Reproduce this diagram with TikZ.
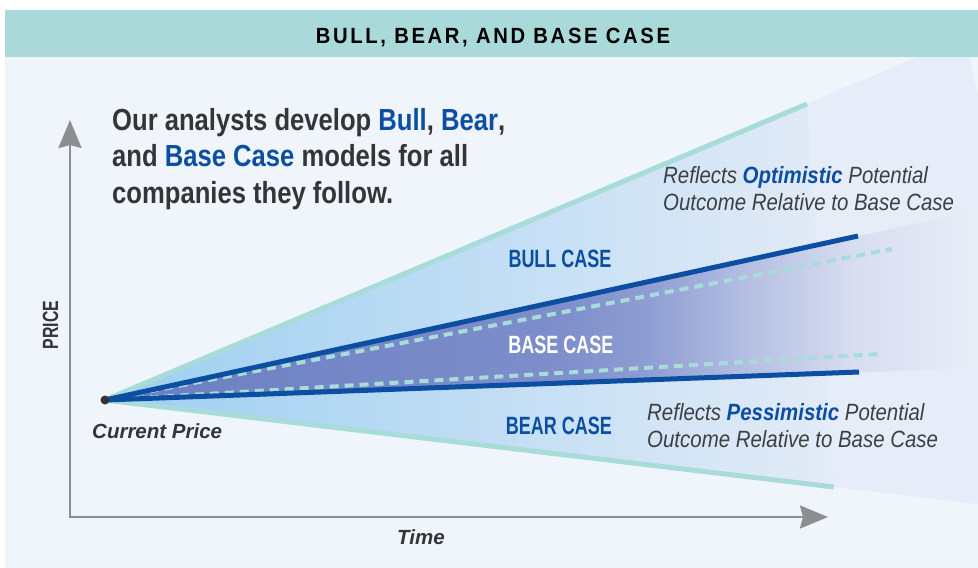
\documentclass[tikz,border=0pt]{standalone}
\usepackage{fontspec}
\setmainfont{Liberation Sans}
\newfontfamily\headfont[FakeStretch=0.92,LetterSpace=12]{Liberation Sans}
\newfontfamily\leadfont[FakeStretch=0.84]{Liberation Sans}
\newfontfamily\casefont[FakeStretch=0.72]{Liberation Sans}
\newfontfamily\notefont[FakeStretch=0.87]{Liberation Sans}
\usetikzlibrary{arrows.meta,positioning,calc}
\definecolor{bandteal}{HTML}{A9DAD9}
\definecolor{cardbg}{HTML}{F0F5FC}
\definecolor{fanfaint}{HTML}{E6EDF8}
\definecolor{textgray}{HTML}{333537}
\definecolor{notegray}{HTML}{3D3F42}
\definecolor{caseblue}{HTML}{0B4EA2}
\definecolor{edgeteal}{HTML}{A7DCD8}
\definecolor{axisgray}{HTML}{8C8F92}
\definecolor{fanblue}{HTML}{9DCFF1}
\definecolor{fanblueend}{HTML}{E3EBF7}
\definecolor{basepurple}{HTML}{6A7EC0}
\definecolor{basemid}{HTML}{7D8ECB}
\definecolor{basemidb}{HTML}{8E9DD2}
\definecolor{baselight}{HTML}{B5C0E3}
\definecolor{basepale}{HTML}{D8DEF1}
\definecolor{baseend}{HTML}{E8EDF8}
% purple band fades late, so stops are set by hand
\pgfdeclarehorizontalshading{basefade}{100bp}{color(0bp)=(basepurple); color(25bp)=(basepurple);
  color(51bp)=(basemid); color(56bp)=(basemidb); color(62bp)=(baselight);
  color(68bp)=(basepale); color(75bp)=(baseend); color(100bp)=(baseend)}

\begin{document}
\begin{tikzpicture}[x=1pt,y=-1pt,% pixel grid, y runs down
    every node/.style={inner sep=0pt},
    headtext/.style={font=\headfont\bfseries\fontsize{22}{26}\selectfont, text=black},
    leadtext/.style={anchor=north west, align=left, text=textgray,
      font=\leadfont\bfseries\fontsize{30.5}{36.5}\selectfont},
    casetext/.style={anchor=base, text=caseblue, font=\casefont\bfseries\fontsize{25}{30}\selectfont},
    notetext/.style={anchor=north west, align=left, text=notegray,
      font=\notefont\itshape\fontsize{23.5}{27}\selectfont},
    axistext/.style={text=textgray, font=\bfseries\itshape\fontsize{20.5}{24}\selectfont},
    edgeline/.style={draw=edgeteal, line width=5pt},
    caseline/.style={draw=caseblue, line width=5pt},
    basedash/.style={draw=edgeteal, line width=4pt, dash pattern=on 9pt off 6pt},
    axisline/.style={draw=axisgray, line width=2.5pt, line join=miter,
      {Stealth[length=28pt,width=23pt,inset=3pt]}-{Stealth[length=28pt,width=23pt,inset=3pt]}}
  ]
  \useasboundingbox (0,0) rectangle (978,568);
  % card and title band
  \fill[white] (0,0) rectangle (978,568);
  \fill[cardbg] (5,57) rectangle (978,568);
  \fill[bandteal] (5,10) rectangle (978,57);
  \node[headtext, anchor=base] (title) at (493,43) {BULL, BEAR, AND BASE CASE};

  % fan points
  \coordinate (cp) at (105,400);
  \coordinate (bullTop) at (807,104);
  \coordinate (bearLow) at (834,487);
  \coordinate (bullEnd) at (858,236);
  \coordinate (bearEnd) at (859,372);
  \coordinate (dashUp) at (892,249);
  \coordinate (dashLow) at (879,354);

  % faded fans
  \fill[fanfaint] (cp) -- (917,57) -- (969,57) -- (978,95) -- (978,504) -- cycle;
  \shade[left color=fanblue, right color=fanblueend] (cp) -- (bullTop) -- (bearLow) -- cycle;
  \shade[shading=basefade] (cp) -- (978,210) -- (978,368) -- cycle;

  % case lines
  \draw[edgeline] (cp) -- (bullTop);
  \draw[edgeline] (cp) -- (bearLow);
  \draw[basedash] (cp) -- (dashUp);
  \draw[basedash] (cp) -- (dashLow);
  \draw[caseline] (cp) -- (bullEnd);
  \draw[caseline] (cp) -- (bearEnd);
  \fill[textgray] (cp) circle (4.5pt);

  % axes
  \coordinate (ytip) at (70,120);
  \coordinate (xtip) at (828,517);
  \draw[axisline] (ytip) |- (xtip);
  \node[axistext, anchor=base west] (curprice) at (92,438) {Current Price};
  \node[axistext, anchor=base west] (time) at (397,544) {Time};
  \node[casetext, text=textgray, rotate=90, font=\casefont\bfseries\fontsize{22}{26}\selectfont]
    (price) at (58,325) {PRICE};

  % texts
  \node[leadtext] (lead) at (112,108) {Our analysts develop {\color{caseblue}Bull}, {\color{caseblue}Bear},\\
    and {\color{caseblue}Base Case} models for all\\ companies they follow.};
  \node[casetext] (bull) at (560,267) {BULL CASE};
  \node[casetext, text=white] (base) at (561,353) {BASE CASE};
  \node[casetext] (bear) at (559,434) {BEAR CASE};
  \node[notetext] (optnote) at (663,166) {Reflects {\bfseries\color{caseblue}Optimistic} Potential\\
    Outcome Relative to Base Case};
  \node[notetext] (pesnote) at (647,403) {Reflects {\bfseries\color{caseblue}Pessimistic} Potential\\
    Outcome Relative to Base Case};
\end{tikzpicture}
\end{document}
